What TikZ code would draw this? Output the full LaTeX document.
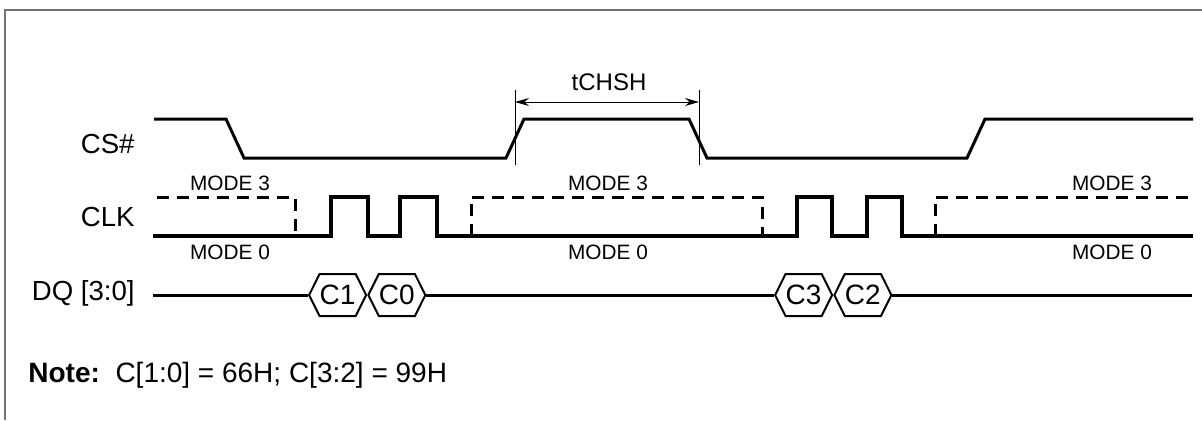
\documentclass[tikz,border=0pt]{standalone}
\usepackage{fontspec}
\setmainfont{Liberation Sans}
\usetikzlibrary{arrows.meta,shapes.symbols}

\begin{document}
\begin{tikzpicture}[x=0.5pt,y=-0.5pt,line join=miter,
                    >={Stealth[length=7pt,width=4pt]}]
  \tikzstyle{wave}=[line width=1.5pt]
  \tikzstyle{clkwave}=[line width=2pt]
  \tikzstyle{modethree}=[line width=1.5pt, dash pattern=on 6pt off 4pt]
  \tikzstyle{signame}=[font=\fontsize{13.8}{16}\selectfont, inner sep=0pt, anchor=base east]
  \tikzstyle{modename}=[font=\fontsize{10.4}{12}\selectfont, inner sep=0pt, anchor=base]
  \tikzstyle{bus}=[draw, line width=1pt, shape=signal, signal to=west and east,
                   signal pointer angle=127, minimum width=28.5pt, minimum height=21pt,
                   inner sep=0pt, anchor=west, font=\fontsize{14}{16}\selectfont]

  \useasboundingbox (0,0) rectangle (1202,420);
  \draw[line width=1pt, gray!110] (5,420) -- (5,9.5) -- (1202,9.5);

  % signal names
  \node[signame] (cs)  at (135,153) {CS\#};
  \node[signame] (clk) at (135,226.5) {CLK};
  \node[signame] (dq)  at (135,300) {DQ [3:0]};

  % CS#
  \draw[wave] (154,119) -- (226,119) -- (244,158) -- (506,158) -- (524,119)
              -- (689,119) -- (707,158) -- (967,158) -- (985,119) -- (1193,119);

  % tCHSH
  \coordinate (rise) at (515,165);
  \coordinate (fall) at (699,165);
  \draw[line width=0.5pt] (rise) -- ++(0,-75);
  \draw[line width=0.5pt] (fall) -- ++(0,-75);
  \draw[line width=0.5pt, <->] ([yshift=31.5pt]rise) -- ([yshift=31.5pt]fall);
  \node[modename, font=\fontsize{12}{14}\selectfont] (tchsh) at (609,90.5) {tCHSH};

  % CLK, mode 0
  \draw[clkwave] (153,236) -- (331,236) -- (331,197) -- (368,197) -- (368,236)
                 -- (400,236) -- (400,197) -- (437,197) -- (437,236)
                 -- (797,236) -- (797,197) -- (832,197) -- (832,236)
                 -- (867,236) -- (867,197) -- (902,197) -- (902,236) -- (1193,236);
  % CLK, mode 3
  \draw[modethree] (157,197) -- (295,197) -- (295,236);
  \draw[modethree] (471,236) -- (471,197) -- (762,197) -- (762,236);
  \draw[modethree] (935,236) -- (935,197) -- (1193,197);

  \node[modename] (m3a) at (230,190.5) {MODE 3};
  \node[modename] (m0a) at (230,259)   {MODE 0};
  \node[modename] (m3b) at (608,190.5) {MODE 3};
  \node[modename] (m0b) at (608,259)   {MODE 0};
  \node[modename] (m3c) at (1112,190.5) {MODE 3};
  \node[modename] (m0c) at (1112,259)   {MODE 0};

  % DQ
  \node[bus] (c1) at (308,295) {C1};
  \node[bus] (c0) at (c1.east) {C0};
  \node[bus] (c3) at (774,295) {C3};
  \node[bus] (c2) at (c3.east) {C2};
  \coordinate (dqin)  at (153,295);
  \coordinate (dqout) at (1192,295);
  \draw[wave] (dqin) -- (c1.west) (c0.east) -- (c3.west) (c2.east) -- (dqout);

  \node[anchor=base west, inner sep=0pt, font=\fontsize{14}{16}\selectfont] (note)
    at (28,382) {\textbf{Note:}\ \ C[1:0] = 66H; C[3:2] = 99H};
\end{tikzpicture}
\end{document}
